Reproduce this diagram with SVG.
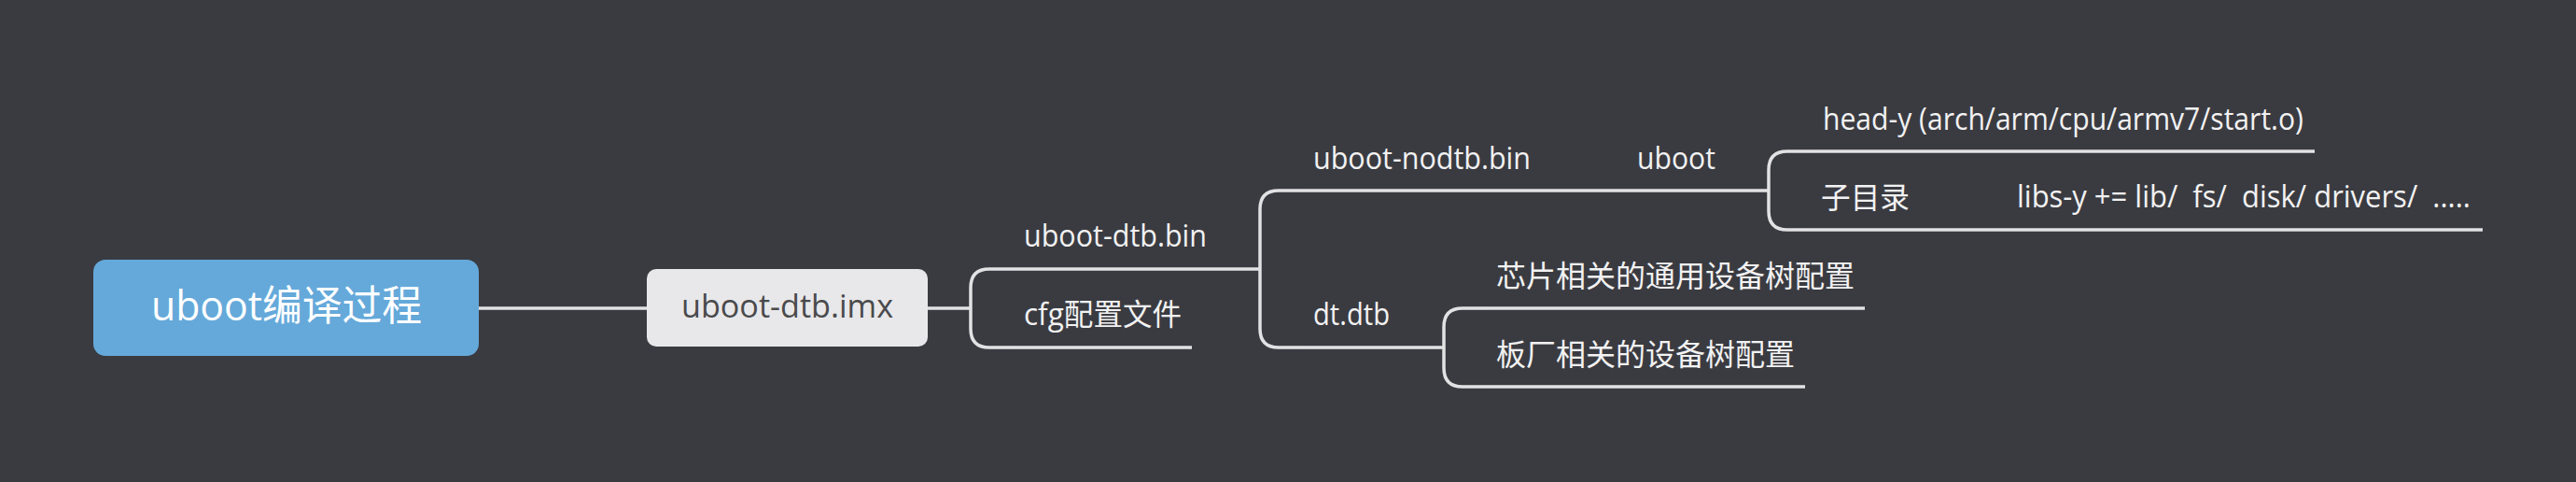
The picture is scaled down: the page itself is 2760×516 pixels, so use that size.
<svg xmlns="http://www.w3.org/2000/svg" width="2760" height="516" viewBox="0 0 2760 516">
<style>
.t{font-family:"Open Sans","Noto Sans CJK SC",sans-serif;font-size:32px;fill:#f2f2f2}
.ln{fill:none;stroke:#e2e2e4;stroke-width:3.5;stroke-linecap:butt}
</style>
<rect width="2760" height="516" fill="#3a3b41"/>
<g id="connectors">
<path class="ln" d="M513 330H693"/>
<path class="ln" d="M994 330H1040"/>
<path class="ln" d="M1087 288H1060Q1040 288 1040 308V352Q1040 372 1060 372H1087"/>
<path class="ln" d="M1305 288H1350"/>
<path class="ln" d="M1397 204H1370Q1350 204 1350 224V352Q1350 372 1370 372H1397"/>
<path class="ln" d="M1652 204H1743"/>
<path class="ln" d="M1848 204H1895"/>
<path class="ln" d="M1940 162H1915Q1895 162 1895 182V226Q1895 246 1915 246H1940"/>
<path class="ln" d="M2057 246H2148"/>
<path class="ln" d="M1502 372H1547"/>
<path class="ln" d="M1593 330H1567Q1547 330 1547 350V394Q1547 414 1567 414H1593"/>
</g>
<g id="root">
<rect x="100" y="278" width="413" height="103" rx="13" fill="#65a9da"/>
<text class="t" x="307" y="343" text-anchor="middle" style="font-size:44px;fill:#ffffff" textLength="290" lengthAdjust="spacingAndGlyphs">uboot编译过程</text>
</g>
<g id="imx">
<rect x="693" y="288" width="301" height="83" rx="10" fill="#e8e8ea"/>
<text class="t" x="730" y="340" style="font-size:35px;fill:#4a4a4c" textLength="227" lengthAdjust="spacingAndGlyphs">uboot-dtb.imx</text>
</g>
<g id="dtbbin">
<path class="ln" d="M1087 288H1305"/>
<text class="t" x="1097" y="264" textLength="196" lengthAdjust="spacingAndGlyphs">uboot-dtb.bin</text>
</g>
<g id="cfg">
<path class="ln" d="M1087 372H1277"/>
<text class="t" x="1097" y="348" textLength="169" lengthAdjust="spacingAndGlyphs">cfg配置文件</text>
</g>
<g id="nodtb">
<path class="ln" d="M1397 204H1652"/>
<text class="t" x="1407" y="181" textLength="233" lengthAdjust="spacingAndGlyphs">uboot-nodtb.bin</text>
</g>
<g id="uboot">
<path class="ln" d="M1743 204H1848"/>
<text class="t" x="1754" y="181" textLength="84" lengthAdjust="spacingAndGlyphs">uboot</text>
</g>
<g id="heady">
<path class="ln" d="M1940 162H2480"/>
<text class="t" x="1953" y="139" textLength="515" lengthAdjust="spacingAndGlyphs">head-y (arch/arm/cpu/armv7/start.o)</text>
</g>
<g id="subdir">
<path class="ln" d="M1940 246H2057"/>
<text class="t" x="1951" y="223" textLength="95" lengthAdjust="spacingAndGlyphs">子目录</text>
</g>
<g id="libs">
<path class="ln" d="M2148 246H2660"/>
<text class="t" x="2161" y="222" textLength="486" lengthAdjust="spacingAndGlyphs" xml:space="preserve">libs-y += lib/  fs/  disk/ drivers/  .....</text>
</g>
<g id="dtdtb">
<path class="ln" d="M1397 372H1502"/>
<text class="t" x="1407" y="348" textLength="82" lengthAdjust="spacingAndGlyphs">dt.dtb</text>
</g>
<g id="chip">
<path class="ln" d="M1593 330H1998"/>
<text class="t" x="1603" y="307" textLength="384" lengthAdjust="spacingAndGlyphs">芯片相关的通用设备树配置</text>
</g>
<g id="board">
<path class="ln" d="M1593 414H1934"/>
<text class="t" x="1603" y="391" textLength="320" lengthAdjust="spacingAndGlyphs">板厂相关的设备树配置</text>
</g>
</svg>
